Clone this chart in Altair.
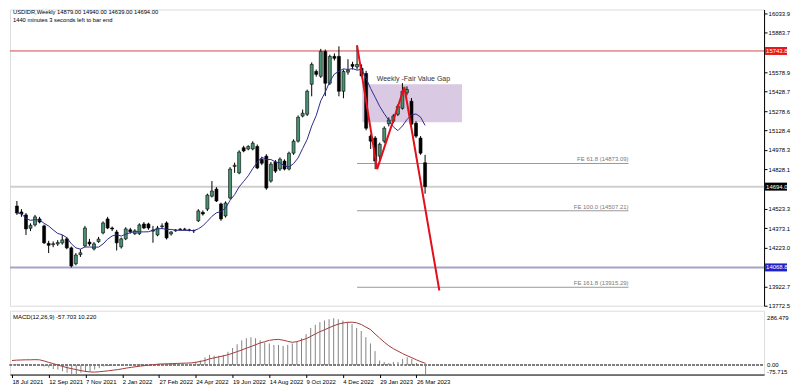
import altair as alt
import pandas as pd

# ---------------- data ----------------
first_week = "2021-07-18"
opens = [14544, 14498, 14475, 14372, 14398, 14444, 14390, 14255, 14245, 14250,
         14258, 14290, 14220, 14097, 14168, 14236, 14265, 14212, 14268, 14336,
         14444, 14374, 14343, 14228, 14290, 14360, 14330, 14330, 14405, 14405,
         14358, 14320, 14385, 14413, 14328, 14352, 14366, 14362, 14360, 14355,
         14430, 14495, 14520, 14620, 14675, 14560, 14467, 14606, 14850, 14800,
         14995, 14985, 14985, 15005, 14905, 14930, 14737, 14884, 14830, 14892,
         14830, 14953, 15046, 15240, 15254, 15486, 15586, 15548, 15741, 15494,
         15702, 15702, 15432, 15580, 15640, 15620, 15610, 15570, 15085, 15070,
         14930, 15046, 15180, 15200, 15254, 15300, 15420, 15355, 15185, 15070,
         14879]
highs = [14583, 14520, 14490, 14410, 14475, 14460, 14400, 14275, 14270, 14280,
         14320, 14305, 14230, 14180, 14210, 14390, 14290, 14265, 14305, 14425,
         14460, 14385, 14360, 14300, 14380, 14375, 14365, 14410, 14420, 14415,
         14390, 14390, 14410, 14425, 14350, 14365, 14372, 14375, 14368, 14362,
         14520, 14510, 14640, 14737, 14690, 14570, 14580, 14845, 14880, 14975,
         15010, 15015, 15045, 15020, 14925, 14945, 14885, 14900, 14920, 14905,
         14965, 15060, 15245, 15290, 15445, 15655, 15600, 15760, 15755, 15715,
         15725, 15780, 15600, 15680, 15660, 15787, 15640, 15590, 15100, 15085,
         15035, 15160, 15230, 15255, 15330, 15495, 15470, 15380, 15200, 15085,
         14940]
lows = [14475, 14460, 14320, 14350, 14385, 14410, 14250, 14180, 14225, 14235,
        14245, 14210, 14068, 14085, 14150, 14225, 14235, 14200, 14260, 14325,
        14365, 14350, 14200, 14215, 14280, 14330, 14320, 14320, 14365, 14360,
        14260, 14310, 14370, 14285, 14315, 14345, 14355, 14355, 14348, 14335,
        14420, 14470, 14505, 14610, 14575, 14430, 14455, 14595, 14800, 14790,
        14960, 14975, 14975, 14830, 14860, 14670, 14725, 14800, 14815, 14820,
        14820, 14940, 15035, 15230, 15240, 15393, 15545, 15535, 15395, 15480,
        15670, 15393, 15378, 15560, 15600, 15600, 15540, 15130, 14985, 14829,
        14900, 15030, 15160, 15185, 15240, 15290, 15400, 15160, 15070, 14940,
        14639]
closes = [14490, 14482, 14367, 14395, 14460, 14420, 14259, 14240, 14252, 14262,
          14282, 14220, 14080, 14165, 14182, 14374, 14250, 14251, 14288, 14413,
          14374, 14366, 14259, 14290, 14367, 14345, 14352, 14398, 14374, 14374,
          14350, 14374, 14390, 14297, 14343, 14358, 14362, 14366, 14355, 14352,
          14506, 14482, 14629, 14660, 14583, 14444, 14567, 14830, 14860, 14962,
          14970, 15005, 15030, 14838, 14875, 14683, 14868, 14814, 14907, 14830,
          14953, 15046, 15231, 15262, 15432, 15640, 15563, 15741, 15494, 15702,
          15687, 15432, 15586, 15595, 15625, 15640, 15550, 15146, 15046, 14892,
          15022, 15146, 15210, 15240, 15316, 15432, 15445, 15177, 15085, 14953,
          14694]
macd_hist = [5, 3, 0, -3, -2, -4, -6, -9.5, -15, -25,
             -28, -38, -47, -57, -57, -47, -43, -38, -28, -19,
             -9, -6, -4, -2, 0, 2, 3, 3, 5, 6,
             5, 5, 6, 6, 4, 5, 5, 5, 5, 4,
             19, 28, 47, 62, 57, 57, 62, 81, 104, 127,
             151, 164, 170, 164, 151, 138, 132, 123, 123, 117,
             123, 132, 142, 164, 189, 227, 246, 262, 272, 280,
             286, 280, 272, 262, 250, 227, 208, 170, 132, 85,
             28, 19, 13, 19, 19, 38, 47, 38, 13, -2,
             -57.7]
macd_signal = [28, 30, 31, 32, 32, 33, 32, 25, 16, 9,
               0, -8, -16, -22, -28, -34, -39, -42, -43, -41,
               -38, -35, -31, -28, -23, -18, -14, -10, -6, -3,
               0, 3, 6, 7, 8, 9, 10, 11, 12, 13,
               17, 22, 28, 38, 44, 50, 56, 63, 72, 82,
               92, 103, 113, 124, 135, 143, 151, 155, 157, 152,
               145, 139, 143, 152, 161, 175, 190, 204, 215, 228,
               240, 250, 257, 261, 262, 258, 248, 232, 217, 190,
               165, 140, 118, 100, 85, 70, 57, 45, 32, 20,
               10.2]

price_ticks = [16033.9, 15883.7, 15578.9, 15428.7, 15278.6, 15128.4, 14978.3,
               14828.1, 14523.3, 14373.1, 14223.0, 13922.7, 13772.5]
date_labels = ["2021-07-18", "2021-09-12", "2021-11-07", "2022-01-02", "2022-02-27",
               "2022-04-24", "2022-06-19", "2022-08-14", "2022-10-09", "2022-12-04",
               "2023-01-29", "2023-03-26"]

level_prices = [15743.8, 14694.0, 14068.8]
level_labels = ["15743.8", "14694.0", "14068.8"]
level_line_colors = ["#d24a4a", "#cfcfcf", "#a4a4c8"]
level_line_widths = [1, 2, 2]
level_box_colors = ["#e81818", "#000000", "#2020c8"]

fe_prices = [14873.09, 14507.21, 13915.29]
fe_labels = ["FE 61.8 (14873.09)", "FE 100.0 (14507.21)", "FE 161.8 (13915.29)"]
fe_start, fe_end = "2022-12-25", "2024-02-17"

zig_dates = ["2022-12-25", "2023-01-25", "2023-03-08", "2023-05-01"]
zig_prices = [15787, 14829, 15465, 13890]

fvg_start, fvg_end = "2023-01-02", "2023-06-05"
fvg_top, fvg_bottom = 15486, 15193
fvg_label = "Weekly -Fair Value Gap"
fvg_label_date = "2023-03-22"

header_lines = ["USDIDR,Weekly  14879.00 14940.00 14639.00 14694.00",
                "1440 minutes 3 seconds left to bar end"]
macd_title = "MACD(12,26,9) -57.703 10.220"
macd_axis_texts = ["286.479", "0.00", "-75.715"]

# ---------------- layout ----------------
W, H1, H2 = 756, 297, 64
FONT = "Liberation Sans"
FS = 6
GREEN = "#479372"
header_y = [0, 8]
macd_axis_y = [7, 54, 61]

n = len(opens)
dates = pd.date_range(first_week, periods=n, freq="7D").strftime("%Y-%m-%d").tolist()


def ms(ts):
    return int(pd.Timestamp(ts).timestamp() * 1000)


t0 = pd.Timestamp(first_week)
x_dom = [ms(t0 - pd.Timedelta(days=2.96)), ms(t0 + pd.Timedelta(days=1145.5))]
xscale = alt.Scale(type="utc", domain=x_dom)
yscale = alt.Scale(domain=[13772.5, 16064.8], zero=False, nice=False)

yaxis = alt.Axis(orient="right", values=price_ticks, format=".1f", title=None,
                 grid=False, labelFontSize=FS, labelFont=FONT, tickSize=3,
                 labelPadding=1, domainColor="#000", tickColor="#000",
                 labelColor="#000", labelFlush=False, labelOverlap=False)


def XT(field):
    return alt.X(field, scale=xscale, axis=None)


def YP(field):
    return alt.Y(field, scale=yscale, axis=yaxis)


candles = pd.DataFrame({"date": dates, "open": opens, "high": highs,
                        "low": lows, "close": closes})

fvg = alt.Chart(pd.DataFrame({"s": [fvg_start], "e": [fvg_end],
                              "t": [fvg_top], "b": [fvg_bottom]})).mark_rect(
    color="#dac9e2").encode(x=XT("s:T"), x2="e:T", y=YP("t:Q"), y2="b:Q")

levels = pd.DataFrame({"price": level_prices, "label": level_labels,
                       "lc": level_line_colors, "lw": level_line_widths,
                       "bc": level_box_colors})
level_lines = alt.Chart(levels).mark_rule().encode(
    y=YP("price:Q"),
    color=alt.Color("lc:N", scale=None),
    strokeWidth=alt.StrokeWidth("lw:Q", scale=None))

fe = pd.DataFrame({"price": fe_prices, "label": fe_labels,
                   "s": [fe_start] * 3, "e": [fe_end] * 3})
fe_lines = alt.Chart(fe).mark_rule(color="#9a9a9a", strokeWidth=1).encode(
    x=XT("s:T"), x2="e:T", y=YP("price:Q"))
fe_text = alt.Chart(fe).mark_text(align="right", baseline="bottom", dy=-1,
                                  fontSize=FS, font=FONT, color="#7a7a7a").encode(
    x=XT("e:T"), y=YP("price:Q"), text="label:N")

wicks = alt.Chart(candles).mark_rule(color="#000", strokeWidth=1).encode(
    x=XT("date:T"), y=YP("low:Q"), y2="high:Q")
bodies = alt.Chart(candles).mark_bar(size=3, stroke="#000", strokeWidth=0.6).encode(
    x=XT("date:T"), y=YP("open:Q"), y2="close:Q",
    fill=alt.when(alt.datum.close >= alt.datum.open).then(alt.value(GREEN))
    .otherwise(alt.value("#000000")))

ma = alt.Chart(candles).transform_window(
    ma="mean(close)", frame=[-7, 0], sort=[alt.SortField("date")]
).mark_line(color="#2c2c8e", strokeWidth=1).encode(
    x=XT("date:T"), y=YP("ma:Q"))

zig = alt.Chart(pd.DataFrame({"date": zig_dates, "price": zig_prices,
                              "k": list(range(len(zig_dates)))})).mark_line(
    color="#e3101c", strokeWidth=2).encode(
    x=XT("date:T"), y=YP("price:Q"), order="k:Q")

fvg_txt = alt.Chart(pd.DataFrame({"d": [fvg_label_date], "p": [fvg_top],
                                  "t": [fvg_label]})).mark_text(
    baseline="bottom", dy=-2, fontSize=7, font=FONT, color="#333").encode(
    x=XT("d:T"), y=YP("p:Q"), text="t:N")

headers = [alt.Chart(pd.DataFrame({"t": [txt]})).mark_text(
    align="left", baseline="top", fontSize=5.8, font=FONT, color="#000").encode(
    x=alt.value(3), y=alt.value(yy), text="t:N")
    for txt, yy in zip(header_lines, header_y)]

boxes = alt.Chart(levels).mark_rule(strokeWidth=8, strokeCap="butt").encode(
    y=YP("price:Q"), x=alt.value(W + 1), x2=alt.value(W + 23),
    color=alt.Color("bc:N", scale=None))
box_txt = alt.Chart(levels).mark_text(align="left", baseline="middle",
                                      fontSize=FS, font=FONT, color="#fff").encode(
    y=YP("price:Q"), x=alt.value(W + 2), text="label:N")

main = alt.layer(fvg, level_lines, fe_lines, fe_text, wicks, bodies, ma, zig,
                 fvg_txt, *headers, boxes, box_txt).properties(width=W, height=H1)

# ---------------- MACD pane ----------------
macd_df = pd.DataFrame({"date": dates, "hist": macd_hist, "signal": macd_signal})
myscale = alt.Scale(domain=[-58, 332], zero=False, nice=False)
xaxis = alt.Axis(values=[ms(d) for d in date_labels],
                 labelExpr="utcFormat(datum.value, '%-d %b %Y')",
                 labelAlign="left", labelFontSize=FS,
                 labelFont=FONT, labelColor="#000", tickSize=3, labelPadding=1,
                 grid=False, title=None, domainColor="#000", tickColor="#000",
                 labelFlush=False, labelOverlap=False)


def XM(field):
    return alt.X(field, scale=xscale, axis=xaxis)


def YM(field):
    return alt.Y(field, scale=myscale, axis=None)


bars = alt.Chart(macd_df).mark_rule(color="#858585", strokeWidth=1).encode(
    x=XM("date:T"), y=YM("hist:Q"), y2=alt.datum(0))
zero = alt.Chart(macd_df).mark_rule(color="#808080", strokeDash=[2, 2]).encode(
    x=alt.value(0), x2=alt.value(W), y=alt.datum(0, scale=myscale, axis=None))
sig = alt.Chart(macd_df).mark_line(color="#a33a3a", strokeWidth=1).encode(
    x=XM("date:T"), y=YM("signal:Q"))
mtitle = alt.Chart(pd.DataFrame({"t": [macd_title]})).mark_text(
    align="left", baseline="top", fontSize=FS, font=FONT, color="#000").encode(
    x=alt.value(3), y=alt.value(3), text="t:N")
maxis = [alt.Chart(pd.DataFrame({"t": [txt]})).mark_text(
    align="left", baseline="middle", fontSize=FS, font=FONT, color="#000").encode(
    x=alt.value(W + 3), y=alt.value(yy), text="t:N")
    for txt, yy in zip(macd_axis_texts, macd_axis_y)]

macd = alt.layer(bars, zero, sig, mtitle, *maxis).properties(width=W, height=H2)

chart = alt.vconcat(main, macd, spacing=0).properties(
    padding={"left": 0, "top": 0, "right": 0, "bottom": 0}
).configure_view(stroke="#7a7a7a", strokeWidth=1).configure(background="white")

chart.save("out.html", embed_options={"renderer": "svg", "actions": False})
